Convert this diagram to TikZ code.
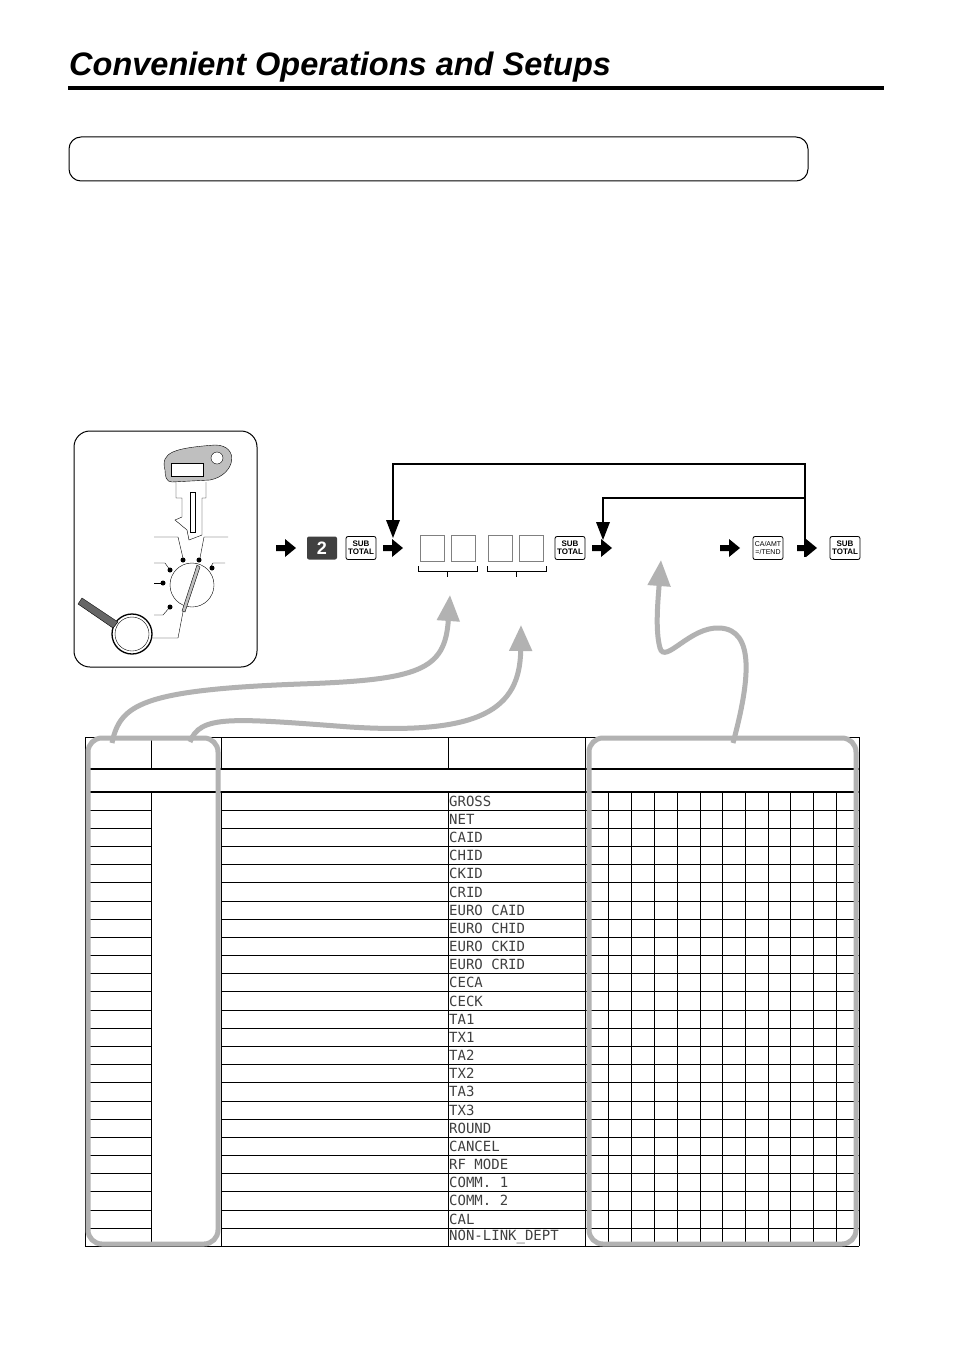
\documentclass[tikz,border=0pt]{standalone}
\usepackage{fontspec}
\setsansfont{Liberation Sans}
\setmonofont{DejaVu Sans Mono}
\usetikzlibrary{arrows.meta}
\begin{document}
\begin{tikzpicture}[x=1pt,y=-1pt,
 keycap/.style={draw,rounded corners=2pt,line width=0.8pt,minimum width=30pt,minimum height=23pt,inner sep=0pt,font=\sffamily\bfseries\fontsize{8}{8}\selectfont,align=center},
 entry/.style={draw=gray,line width=0.8pt,minimum width=24pt,minimum height=26pt,inner sep=0pt},
 gr/.style={draw=black!30,line width=5pt},
 grarrow/.style={gr,-{Triangle[length=26pt,width=22pt]}},
 mono/.style={font=\ttfamily\fontsize{14}{14}\selectfont,text=black!75,anchor=west,inner sep=1pt}]
\useasboundingbox (0,0) rectangle (954,1351);
\fill[white] (0,0) rectangle (954,1351);
% title
\node[anchor=west,font=\sffamily\bfseries\itshape\fontsize{32.5}{32.5}\selectfont,inner sep=0] (title) at (69,67) {Convenient Operations and Setups};
\draw[line width=4.5pt] (68,88) -- (884,88);
\draw[line width=1pt,rounded corners=12pt] (69,137) rectangle (808,181);
% key panel
\draw[line width=1pt,rounded corners=16pt] (74,431) rectangle (257,667);
\begin{scope}
\draw[fill=black!25] (165,470) .. controls (160,452) and (175,448) .. (215,445) .. controls (240,445) and (236,475) .. (210,480) -- (172,482) .. controls (166,482) and (165,476) .. (165,470) -- cycle;
\draw[fill=white] (217,458) circle (6);
\draw[fill=white] (171,463) rectangle (203,476);
\draw[fill=white] (176,482) -- (176,498) -- (182,498) -- (182,517) -- (175,520) -- (187,530) -- (189,540) -- (202,535) -- (202,498) -- (206,498) -- (206,482);
\draw (190,492) rectangle (195,532);
\draw (154,537) -- (178,537) -- (183,558);
\draw (228,537) -- (204,537) -- (200,558);
\draw (154,563) -- (165,563) -- (170,570);
\draw (225,563) -- (213,563) -- (210,568);
\draw (154,583) -- (163,583);
\draw (154,615) -- (163,615) -- (170,607);
\fill (183,560) circle (2.5) (199,560) circle (2.5) (170,570) circle (2.5) (212,568) circle (2.5) (163,583) circle (2.5) (170,607) circle (2.5);
\draw (192,585) circle (22);
\draw[fill=black!25] (197,565) -- (200,567) -- (185,612) -- (182,611) -- cycle;
\draw (183,612) -- (178,638) -- (153,638);
\draw[line width=1.3pt] (132,634) circle (20);
\draw (132,634) circle (17);
\draw[fill=black!60] (78,604) -- (82,598) -- (118,622) -- (113,628) -- cycle;
\end{scope}
% flow
\def\farrow#1#2{\fill (#1-9,#2-3) -- (#1,#2-3) -- (#1,#2-9) -- (#1+11,#2) -- (#1,#2+9) -- (#1,#2+3) -- (#1-9,#2+3) -- cycle;}
\farrow{285}{548}
\node[fill=black!75,text=white,rounded corners=2pt,minimum width=30pt,minimum height=23pt,inner sep=0,font=\sffamily\bfseries\fontsize{18}{18}\selectfont] (k2) at (322,548) {2};
\node[keycap] (st1) at (361,548) {SUB\\TOTAL};
\farrow{392}{548}
\node[entry] (e1) at (432,548) {};
\node[entry] (e2) at (463,548) {};
\node[entry] (e3) at (500,548) {};
\node[entry] (e4) at (531,548) {};
\draw (418,566) -- (418,571) -- (477,571) -- (477,566) (447,571) -- (447,577);
\draw (487,566) -- (487,571) -- (546,571) -- (546,566) (516,571) -- (516,577);
\node[keycap] (st2) at (570,548) {SUB\\TOTAL};
\farrow{601}{548}
\farrow{729}{548}
\node[keycap,font=\sffamily\fontsize{7}{7.5}\selectfont] (ca) at (768,548) {CA/AMT\\=/TEND};
\farrow{806}{548}
\node[keycap] (st3) at (845,548) {SUB\\TOTAL};
\coordinate (loopA) at (805,557);
\draw[line width=2.5pt] (loopA) -- (805,464) -- (393,464) -- (393,522);
\fill (386,520) -- (400,520) -- (393,538) -- cycle;
\draw[line width=2.5pt] (805,498) -- (603,498) -- (603,524);
\fill (596,522) -- (610,522) -- (603,540) -- cycle;
% table
\draw[line width=0.8pt] (85,737) -- (85,1246) (585,737) -- (585,1246) (859,737) -- (859,1246);
\foreach \x in {151,221,448} \draw[line width=0.8pt] (\x,737) -- (\x,769) (\x,792) -- (\x,1246);
\draw[line width=0.8pt] (85,737) -- (859,737) (85,1246) -- (859,1246);
\draw[line width=1.8pt] (85,769) -- (859,769) (85,792) -- (859,792);
\foreach \i in {1,...,24} {
  \pgfmathsetmacro\yy{792+\i*18.17}
  \draw[line width=0.8pt] (85,\yy) -- (151,\yy) (221,\yy) -- (859,\yy);
}
\foreach \x in {608,631,654,677,700,722,745,768,790,813,836} \draw[line width=0.8pt] (\x,792) -- (\x,1246);
\foreach \t [count=\i] in {GROSS,NET,CAID,CHID,CKID,CRID,EURO CAID,EURO CHID,EURO CKID,EURO CRID,CECA,CECK,TA1,TX1,TA2,TX2,TA3,TX3,ROUND,CANCEL,RF MODE,COMM. 1,COMM. 2,CAL,NON-LINK\_DEPT}
  \node[mono] (r\i) at (448,{792+(\i-0.5)*18.17}) {\t};
% gray frames and arrows
\draw[gr,rounded corners=14pt] (88,738) rectangle (218,1244);
\draw[gr,rounded corners=14pt] (589,738) rectangle (856,1244);
\draw[grarrow] (112,743) .. controls (120,705) and (140,690) .. (300,684) .. controls (420,680) and (445,670) .. (450,595);
\draw[grarrow] (190,742) .. controls (200,715) and (230,718) .. (350,727) .. controls (480,735) and (520,710) .. (521,625);
\draw[grarrow] (733,743) .. controls (750,680) and (755,630) .. (720,628) .. controls (690,626) and (665,665) .. (660,648) .. controls (655,630) and (658,600) .. (661,560);
\end{tikzpicture}
\end{document}
